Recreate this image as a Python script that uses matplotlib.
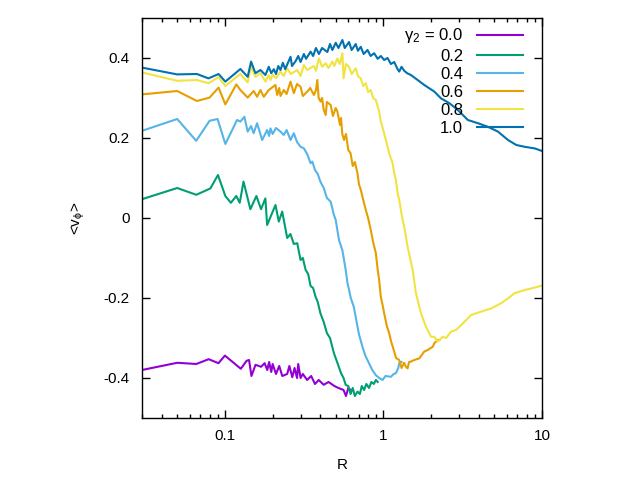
import matplotlib

matplotlib.use("Agg")
import matplotlib.pyplot as plt
from matplotlib.ticker import FixedLocator, FixedFormatter, LogLocator, NullFormatter

plt.rcParams["font.family"] = ["Liberation Sans", "DejaVu Sans"]
plt.rcParams["mathtext.default"] = "regular"

# mean azimuthal velocity <v_phi> versus R, one curve per gamma_2
r_g00 = [0.03, 0.05, 0.066, 0.079, 0.091, 0.10, 0.126, 0.137, 0.142, 0.147, 0.156, 0.169,
         0.178, 0.185, 0.19, 0.196, 0.20, 0.21, 0.22, 0.23, 0.247, 0.255, 0.266, 0.275,
         0.285, 0.29, 0.30, 0.31, 0.33, 0.35, 0.37, 0.39, 0.42, 0.45, 0.49, 0.52, 0.56,
         0.58, 0.60, 0.62]
v_g00 = [-0.38, -0.362, -0.365, -0.353, -0.363, -0.344, -0.377, -0.357, -0.355, -0.395,
         -0.367, -0.372, -0.363, -0.38, -0.36, -0.385, -0.365, -0.39, -0.37, -0.395, -0.39,
         -0.37, -0.398, -0.375, -0.40, -0.365, -0.40, -0.39, -0.405, -0.395, -0.415, -0.405,
         -0.417, -0.41, -0.42, -0.425, -0.43, -0.445, -0.425, -0.43]

r_g02 = [0.03, 0.05, 0.066, 0.081, 0.0904, 0.1006, 0.109, 0.118, 0.124, 0.131, 0.1447,
         0.158, 0.169, 0.18, 0.1846, 0.2084, 0.2187, 0.2298, 0.2471, 0.259, 0.272, 0.286,
         0.293, 0.30, 0.31, 0.323, 0.335, 0.347, 0.36, 0.373, 0.385, 0.40, 0.42, 0.44,
         0.46, 0.487, 0.51, 0.54, 0.56, 0.578, 0.60, 0.62, 0.64, 0.66, 0.686, 0.71, 0.73,
         0.755, 0.78, 0.81, 0.84, 0.87, 0.895, 0.92]
v_g02 = [0.047, 0.075, 0.058, 0.074, 0.1075, 0.055, 0.038, 0.055, 0.038, 0.091, 0.022,
         0.055, 0.022, 0.049, -0.0175, 0.0325, -0.009, 0.016, -0.05, -0.04, -0.065, -0.063,
         -0.085, -0.105, -0.10, -0.13, -0.14, -0.17, -0.175, -0.197, -0.21, -0.238, -0.26,
         -0.288, -0.30, -0.338, -0.36, -0.388, -0.40, -0.4175, -0.42, -0.44, -0.425, -0.445,
         -0.434, -0.44, -0.42, -0.43, -0.415, -0.425, -0.41, -0.415, -0.405, -0.41]

r_g04 = [0.03, 0.05, 0.0659, 0.08, 0.0899, 0.1006, 0.1193, 0.1252, 0.1327, 0.1392, 0.1462,
         0.1518, 0.1596, 0.1717, 0.1846, 0.19, 0.1937, 0.20, 0.21, 0.2241, 0.235, 0.245,
         0.2593, 0.272, 0.285, 0.30, 0.315, 0.33, 0.347, 0.356, 0.37, 0.385, 0.40, 0.42,
         0.44, 0.4645, 0.487, 0.50, 0.524, 0.55, 0.564, 0.578, 0.593, 0.607, 0.622, 0.65,
         0.686, 0.70, 0.737, 0.77, 0.81, 0.85, 0.895, 0.94, 0.987, 1.03, 1.114, 1.16,
         1.198, 1.24, 1.257, 1.30]
v_g04 = [0.218, 0.2475, 0.193, 0.243, 0.2475, 0.185, 0.245, 0.241, 0.253, 0.216, 0.23,
         0.212, 0.237, 0.195, 0.22, 0.205, 0.224, 0.21, 0.225, 0.216, 0.2075, 0.22, 0.195,
         0.212, 0.19, 0.178, 0.174, 0.16, 0.137, 0.141, 0.12, 0.11, 0.091, 0.075, 0.05,
         0.041, 0.0075, -0.005, -0.055, -0.08, -0.105, -0.13, -0.163, -0.18, -0.20, -0.222,
         -0.272, -0.29, -0.322, -0.345, -0.363, -0.38, -0.393, -0.40, -0.405, -0.395, -0.397,
         -0.39, -0.388, -0.375, -0.363, -0.36]

r_g06 = [0.03, 0.05, 0.0666, 0.08, 0.0912, 0.1006, 0.118, 0.1252, 0.1392, 0.1518, 0.1596,
         0.1675, 0.1757, 0.189, 0.2084, 0.2136, 0.22, 0.2241, 0.2352, 0.245, 0.2593, 0.2721,
         0.285, 0.30, 0.31, 0.3308, 0.345, 0.3642, 0.375, 0.3827, 0.39, 0.4016, 0.41, 0.42,
         0.4319, 0.44, 0.4645, 0.48, 0.50, 0.5122, 0.5319, 0.54, 0.55, 0.564, 0.58, 0.60,
         0.62, 0.64, 0.66, 0.6855, 0.70, 0.72, 0.74, 0.7737, 0.80, 0.8321, 0.86, 0.8951,
         0.92, 0.9391, 0.9625, 0.99, 1.01, 1.05, 1.086, 1.12, 1.169, 1.20, 1.257, 1.30,
         1.35, 1.386, 1.42, 1.45, 1.49, 1.564, 1.682, 1.809, 1.901, 2.045, 2.093, 2.199,
         2.251]
v_g06 = [0.309, 0.3175, 0.2925, 0.301, 0.326, 0.284, 0.334, 0.32, 0.301, 0.3175, 0.303,
         0.32, 0.303, 0.32, 0.3325, 0.3075, 0.325, 0.305, 0.32, 0.31, 0.341, 0.312, 0.335,
         0.328, 0.305, 0.316, 0.325, 0.3075, 0.32, 0.345, 0.30, 0.291, 0.30, 0.27, 0.2575,
         0.29, 0.2825, 0.255, 0.275, 0.266, 0.2325, 0.25, 0.21, 0.195, 0.21, 0.17, 0.162,
         0.13, 0.14, 0.112, 0.085, 0.07, 0.05, 0.02, 0.0, -0.03, -0.06, -0.088, -0.13, -0.155,
         -0.197, -0.22, -0.238, -0.27, -0.288, -0.31, -0.334, -0.35, -0.355, -0.375, -0.362,
         -0.372, -0.376, -0.36, -0.359, -0.355, -0.351, -0.334, -0.33, -0.322, -0.313,
         -0.305, -0.305]

r_g08 = [0.03, 0.05, 0.0666, 0.0788, 0.0912, 0.1006, 0.1252, 0.1392, 0.1462, 0.1557, 0.1675,
         0.1801, 0.189, 0.1937, 0.20, 0.21, 0.2241, 0.235, 0.2471, 0.26, 0.2859, 0.30,
         0.3148, 0.33, 0.3642, 0.375, 0.3917, 0.41, 0.4319, 0.45, 0.4761, 0.49, 0.5122,
         0.53, 0.5508, 0.56, 0.58, 0.6065, 0.63, 0.6686, 0.69, 0.7192, 0.745, 0.7737, 0.80,
         0.8321, 0.86, 0.8951, 0.9391, 0.9625, 1.01, 1.086, 1.142, 1.169, 1.198, 1.228,
         1.257, 1.288, 1.321, 1.352, 1.42, 1.528, 1.603, 1.724, 1.854, 1.995, 2.093, 2.199,
         2.365, 2.482, 2.67, 2.872, 3.089, 3.405, 3.573, 4.133, 4.781, 5.533, 6.1, 6.716,
         7.769, 8.989, 10.0]
v_g08 = [0.364, 0.343, 0.345, 0.337, 0.352, 0.33, 0.36, 0.339, 0.378, 0.353, 0.362, 0.341,
         0.3575, 0.345, 0.358, 0.35, 0.366, 0.355, 0.374, 0.36, 0.37, 0.355, 0.3825, 0.37,
         0.38, 0.368, 0.399, 0.378, 0.387, 0.375, 0.391, 0.38, 0.399, 0.385, 0.412, 0.349,
         0.385, 0.378, 0.36, 0.374, 0.355, 0.349, 0.33, 0.337, 0.315, 0.32, 0.30, 0.295,
         0.266, 0.241, 0.212, 0.162, 0.137, 0.112, 0.095, 0.062, 0.045, 0.02, -0.005, -0.022,
         -0.072, -0.13, -0.188, -0.238, -0.272, -0.297, -0.297, -0.309, -0.297, -0.30,
         -0.284, -0.28, -0.2675, -0.251, -0.2425, -0.234, -0.226, -0.213, -0.201, -0.188,
         -0.18, -0.174, -0.169]

r_g10 = [0.03, 0.05, 0.0666, 0.0788, 0.0912, 0.1006, 0.1252, 0.1392, 0.1462, 0.1557, 0.1675,
         0.1801, 0.189, 0.196, 0.2033, 0.21, 0.217, 0.2241, 0.232, 0.24, 0.2593, 0.265,
         0.279, 0.29, 0.30, 0.3148, 0.325, 0.347, 0.36, 0.375, 0.3917, 0.41, 0.4427, 0.46,
         0.4761, 0.50, 0.52, 0.5508, 0.57, 0.6065, 0.63, 0.6686, 0.69, 0.7192, 0.75, 0.7932,
         0.83, 0.8731, 0.92, 0.9625, 1.01, 1.061, 1.114, 1.169, 1.228, 1.257, 1.30, 1.352,
         1.41, 1.49, 1.643, 1.809, 2.093, 2.307, 2.604, 2.944, 3.405, 3.939, 4.558, 5.272,
         6.1, 6.885, 7.769, 8.989, 10.0]
v_g10 = [0.376, 0.359, 0.36, 0.349, 0.36, 0.341, 0.3725, 0.353, 0.391, 0.362, 0.37, 0.3575,
         0.378, 0.362, 0.372, 0.36, 0.38, 0.37, 0.388, 0.372, 0.403, 0.38, 0.392, 0.405, 0.39,
         0.41, 0.398, 0.416, 0.405, 0.425, 0.41, 0.425, 0.415, 0.435, 0.42, 0.438, 0.425,
         0.445, 0.425, 0.44, 0.42, 0.435, 0.418, 0.428, 0.41, 0.42, 0.405, 0.412, 0.398,
         0.405, 0.395, 0.40, 0.385, 0.39, 0.372, 0.366, 0.378, 0.368, 0.362, 0.3575, 0.345,
         0.3325, 0.316, 0.299, 0.287, 0.27, 0.245, 0.237, 0.228, 0.216, 0.195, 0.1825, 0.178,
         0.174, 0.1675]

series = [
    (r_g00, v_g00, r"$\gamma_2$ = 0.0", "#9400d3"),
    (r_g02, v_g02, "0.2", "#009e73"),
    (r_g04, v_g04, "0.4", "#56b4e9"),
    (r_g06, v_g06, "0.6", "#e69f00"),
    (r_g08, v_g08, "0.8", "#f0e442"),
    (r_g10, v_g10, "1.0", "#0072b2"),
]

y_ticks = [-0.4, -0.2, 0.0, 0.2, 0.4]
y_tick_labels = ["-0.4", "-0.2", "0", "0.2", "0.4"]
x_ticks = [0.1, 1, 10]
x_tick_labels = ["0.1", "1", "10"]

fig = plt.figure(figsize=(6.4, 4.8), dpi=100)
ax = fig.add_axes([0.2219, 0.1292, 0.625, 0.8333])

for r, v, label, color in series:
    ax.plot(r, v, color=color, lw=1.5, label=label)

ax.set_xscale("log")
ax.set_xlim(0.03, 10)
ax.set_ylim(-0.5, 0.5)
ax.xaxis.set_major_locator(FixedLocator(x_ticks))
ax.xaxis.set_major_formatter(FixedFormatter(x_tick_labels))
ax.xaxis.set_minor_locator(LogLocator(base=10, subs=range(2, 10)))
ax.xaxis.set_minor_formatter(NullFormatter())
ax.yaxis.set_major_locator(FixedLocator(y_ticks))
ax.yaxis.set_major_formatter(FixedFormatter(y_tick_labels))

ax.tick_params(which="both", direction="in", top=True, right=True, labelsize=11, width=1)
ax.tick_params(which="major", length=6)
ax.tick_params(which="minor", length=3)
ax.tick_params(axis="y", pad=9)
ax.tick_params(axis="x", pad=8)
for sp in ax.spines.values():
    sp.set_linewidth(1)

ax.set_xlabel("R", fontsize=11, labelpad=11)
ax.set_ylabel(r"<v$_\phi$>", fontsize=11, labelpad=12)

ax.legend(loc="upper right", bbox_to_anchor=(0.9525, 0.979), frameon=False,
          markerfirst=False, fontsize=12, handlelength=2.75, handletextpad=0.85,
          labelspacing=0.19, borderaxespad=0, borderpad=0)

fig.savefig("out.png", dpi=100)
